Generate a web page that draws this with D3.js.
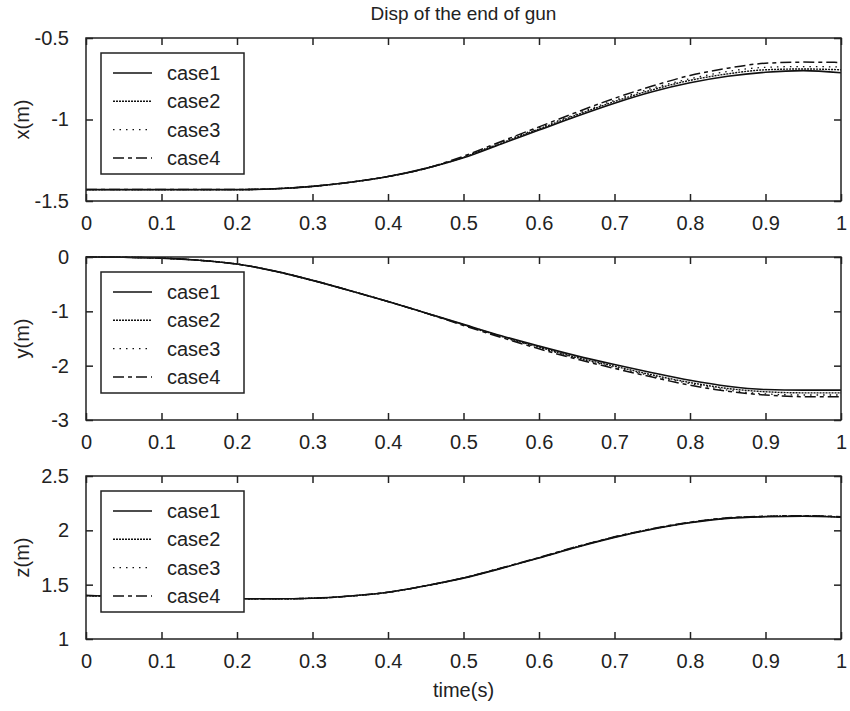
<!DOCTYPE html>
<html>
<head>
<meta charset="utf-8">
<script src="https://cdn.jsdelivr.net/npm/d3@7"></script>
<style>
  body { margin: 0; background: #fff; }
  text { font-family: "Liberation Sans", Arial, sans-serif; fill: #222; }
</style>
</head>
<body>
<div id="chart"></div>
<script>
  // time samples (s)
  var time = [0, 0.05, 0.1, 0.15, 0.2, 0.25, 0.3, 0.35, 0.4, 0.45, 0.5,
              0.55, 0.6, 0.65, 0.7, 0.75, 0.8, 0.85, 0.9, 0.95, 1];

  var caseNames = ["case1", "case2", "case3", "case4"];

  // x(m) per case
  var xCase1 = [-1.43, -1.43, -1.43, -1.43, -1.43, -1.425, -1.41, -1.385, -1.35, -1.30, -1.235,
                -1.15, -1.065, -0.98, -0.90, -0.83, -0.775, -0.735, -0.71, -0.70, -0.713];
  var xCase2 = [-1.43, -1.43, -1.43, -1.43, -1.43, -1.425, -1.41, -1.385, -1.35, -1.30, -1.232,
                -1.145, -1.058, -0.972, -0.89, -0.818, -0.76, -0.72, -0.695, -0.69, -0.695];
  var xCase3 = [-1.43, -1.43, -1.43, -1.43, -1.43, -1.425, -1.41, -1.385, -1.35, -1.30, -1.229,
                -1.14, -1.052, -0.965, -0.882, -0.808, -0.75, -0.705, -0.68, -0.675, -0.678];
  var xCase4 = [-1.43, -1.43, -1.43, -1.43, -1.43, -1.425, -1.41, -1.385, -1.35, -1.30, -1.225,
                -1.135, -1.045, -0.955, -0.87, -0.795, -0.73, -0.685, -0.655, -0.648, -0.65];

  // y(m) per case
  var yCase1 = [0, -0.005, -0.02, -0.06, -0.13, -0.26, -0.43, -0.62, -0.82, -1.03, -1.24,
                -1.45, -1.64, -1.82, -1.98, -2.13, -2.27, -2.38, -2.44, -2.45, -2.45];
  var yCase2 = [0, -0.005, -0.02, -0.06, -0.13, -0.26, -0.43, -0.62, -0.82, -1.03, -1.245,
                -1.46, -1.66, -1.85, -2.01, -2.17, -2.31, -2.42, -2.48, -2.50, -2.50];
  var yCase3 = [0, -0.005, -0.02, -0.06, -0.13, -0.26, -0.43, -0.62, -0.82, -1.03, -1.25,
                -1.47, -1.67, -1.86, -2.03, -2.19, -2.33, -2.45, -2.52, -2.54, -2.54];
  var yCase4 = [0, -0.005, -0.02, -0.06, -0.13, -0.26, -0.43, -0.62, -0.82, -1.03, -1.26,
                -1.48, -1.69, -1.88, -2.05, -2.21, -2.36, -2.47, -2.54, -2.57, -2.57];

  // z(m) per case
  var zCase1 = [1.40, 1.39, 1.38, 1.375, 1.37, 1.37, 1.375, 1.395, 1.43, 1.49, 1.56,
                1.65, 1.745, 1.845, 1.935, 2.01, 2.07, 2.11, 2.125, 2.13, 2.12];
  var zCase2 = [1.40, 1.39, 1.38, 1.375, 1.37, 1.37, 1.375, 1.395, 1.43, 1.49, 1.562,
                1.652, 1.748, 1.848, 1.938, 2.013, 2.073, 2.113, 2.128, 2.133, 2.123];
  var zCase3 = [1.40, 1.39, 1.38, 1.375, 1.37, 1.37, 1.375, 1.395, 1.43, 1.49, 1.561,
                1.651, 1.747, 1.847, 1.937, 2.012, 2.072, 2.112, 2.127, 2.132, 2.122];
  var zCase4 = [1.40, 1.39, 1.38, 1.375, 1.37, 1.37, 1.375, 1.395, 1.43, 1.49, 1.563,
                1.654, 1.75, 1.85, 1.94, 2.015, 2.075, 2.115, 2.13, 2.135, 2.125];

  var xTicks = [0, 0.1, 0.2, 0.3, 0.4, 0.5, 0.6, 0.7, 0.8, 0.9, 1];

  var panels = [
      { label: "x(m)", domain: [-1.5, -0.5], ticks: [-1.5, -1, -0.5], series: [xCase1, xCase2, xCase3, xCase4], top: 38 },
      { label: "y(m)", domain: [-3, 0], ticks: [-3, -2, -1, 0], series: [yCase1, yCase2, yCase3, yCase4], top: 257 },
      { label: "z(m)", domain: [1, 2.5], ticks: [1, 1.5, 2, 2.5], series: [zCase1, zCase2, zCase3, zCase4], top: 476 }
  ];

  var left = 86,
      right = 841,
      panelHeight = 163,
      tickLen = 7,
      fontSize = 20;

  // plain hyphen for negatives, like the original plot
  var fmt = function (d) { return String(d); };

  // line styles: solid, fine dots, sparse dots, dash-dot
  var dashes = ["none", "2,1", "1.5,5", "11,4,4,4"];
  var widths = [1.6, 1.4, 1.3, 1.5];

  var svg = d3.select("#chart")
      .append("svg")
      .attr("width", 850)
      .attr("height", 711);

  svg.append("rect").attr("width", 850).attr("height", 711).attr("fill", "#fff");

  var x = d3.scaleLinear().domain([0, 1]).range([left, right]);

  // title
  svg.append("text")
      .attr("x", (left + right) / 2)
      .attr("y", 20)
      .attr("text-anchor", "middle")
      .style("font-size", "19px")
      .text("Disp of the end of gun");

  panels.forEach(function (p) {
      var bottom = p.top + panelHeight;
      var y = d3.scaleLinear().domain(p.domain).range([bottom, p.top]);
      var g = svg.append("g");

      // curves
      var line = d3.line()
          .x(function (d, i) { return x(time[i]); })
          .y(function (d) { return y(d); })
          .curve(d3.curveMonotoneX);

      p.series.forEach(function (s, k) {
          g.append("path")
              .datum(s)
              .attr("d", line)
              .attr("fill", "none")
              .attr("stroke", "#111")
              .attr("stroke-width", widths[k])
              .attr("stroke-dasharray", dashes[k]);
      });

      // box
      g.append("rect")
          .attr("x", left)
          .attr("y", p.top)
          .attr("width", right - left)
          .attr("height", panelHeight)
          .attr("fill", "none")
          .attr("stroke", "#222")
          .attr("stroke-width", 1.5);

      // axes with inward ticks
      var axB = g.append("g").attr("transform", "translate(0," + bottom + ")")
          .call(d3.axisBottom(x).tickValues(xTicks).tickSizeInner(-tickLen).tickSizeOuter(0)
              .tickFormat(fmt).tickPadding(15));
      var axT = g.append("g").attr("transform", "translate(0," + p.top + ")")
          .call(d3.axisTop(x).tickValues(xTicks).tickSizeInner(-tickLen).tickSizeOuter(0)
              .tickFormat(""));
      var axL = g.append("g").attr("transform", "translate(" + left + ",0)")
          .call(d3.axisLeft(y).tickValues(p.ticks).tickSizeInner(-tickLen).tickSizeOuter(0)
              .tickFormat(fmt).tickPadding(17));
      var axR = g.append("g").attr("transform", "translate(" + right + ",0)")
          .call(d3.axisRight(y).tickValues(p.ticks).tickSizeInner(-tickLen).tickSizeOuter(0)
              .tickFormat(""));

      [axB, axT, axL, axR].forEach(function (a) {
          a.select(".domain").remove();
          a.selectAll(".tick line").attr("stroke", "#222").attr("stroke-width", 1.5);
          a.selectAll(".tick text")
              .style("font-size", fontSize + "px")
              .style("font-family", "'Liberation Sans', Arial, sans-serif")
              .attr("fill", "#222");
      });

      // y label
      svg.append("text")
          .attr("transform", "translate(29," + (p.top + panelHeight / 2) + ") rotate(-90)")
          .attr("text-anchor", "middle")
          .style("font-size", fontSize + "px")
          .text(p.label);

      // legend
      var lg = g.append("g").attr("transform", "translate(" + (left + 15) + "," + (p.top + 15) + ")");
      lg.append("rect")
          .attr("width", 143)
          .attr("height", 121)
          .attr("fill", "#fff")
          .attr("stroke", "#222")
          .attr("stroke-width", 1.5);

      caseNames.forEach(function (name, k) {
          var cy = 20 + k * 28.3;
          lg.append("line")
              .attr("x1", 12).attr("x2", 51)
              .attr("y1", cy).attr("y2", cy)
              .attr("stroke", "#111")
              .attr("stroke-width", widths[k])
              .attr("stroke-dasharray", dashes[k]);
          lg.append("text")
              .attr("x", 66)
              .attr("y", cy + 7)
              .style("font-size", fontSize + "px")
              .text(name);
      });
  });

  // x label
  svg.append("text")
      .attr("x", (left + right) / 2)
      .attr("y", 697)
      .attr("text-anchor", "middle")
      .style("font-size", fontSize + "px")
      .text("time(s)");
</script>
</body>
</html>
